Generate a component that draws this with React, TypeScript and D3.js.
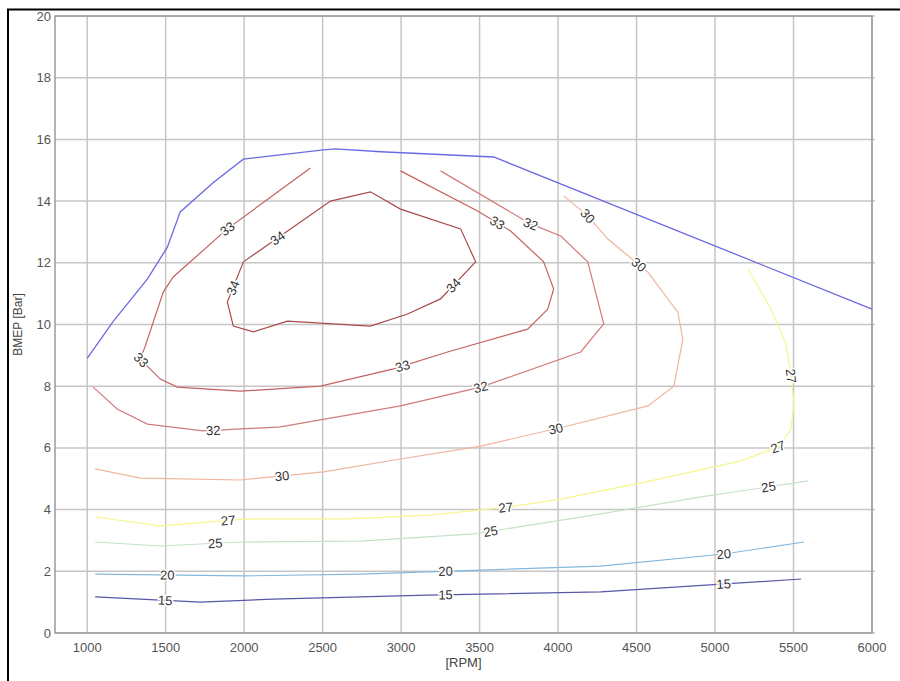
import React from 'react';
import * as d3 from 'd3';

// axis ticks
const RPM_TICKS = [1000, 1500, 2000, 2500, 3000, 3500, 4000, 4500, 5000, 5500, 6000];
const BMEP_TICKS = [0, 2, 4, 6, 8, 10, 12, 14, 16, 18, 20];

// full load (max BMEP) curve, [rpm, bmep]
const maxBmep: [number, number][] = [
  [1000, 8.9], [1166, 10.1], [1383, 11.47], [1510, 12.5], [1593, 13.65], [1804, 14.6],
  [1995, 15.36], [2506, 15.66], [2580, 15.69], [2870, 15.6], [3590, 15.43], [6000, 10.5]
];

// efficiency iso-lines [rpm, bmep]
const eff34: [number, number][] = [
  [1995, 12.03], [2550, 14.0], [2805, 14.3], [2996, 13.74], [3379, 13.1], [3475, 12.03],
  [3251, 10.83], [3041, 10.34], [2805, 9.95], [2276, 10.11], [2059, 9.76], [1931, 9.95],
  [1893, 10.73], [1995, 12.03]
];
const eff33: [number, number][] = [
  [2422, 15.07], [1893, 13.1], [1548, 11.54], [1485, 11.05], [1370, 9.3], [1338, 8.88],
  [1466, 8.23], [1574, 7.97], [1976, 7.84], [2486, 8.0], [2952, 8.56], [3296, 9.11],
  [3806, 9.85], [3934, 10.5], [3972, 11.15], [3908, 12.03], [3698, 13.03], [3487, 13.68],
  [2996, 14.98]
];
const eff32: [number, number][] = [
  [1038, 7.97], [1191, 7.26], [1383, 6.77], [1740, 6.55], [2231, 6.68], [2996, 7.36],
  [3507, 7.97], [4144, 9.11], [4291, 10.02], [4189, 12.03], [4017, 12.87], [3825, 13.26],
  [3251, 14.98]
];
const eff30: [number, number][] = [
  [1051, 5.32], [1338, 5.02], [1976, 4.96], [2506, 5.22], [2996, 5.64], [3507, 6.06],
  [4061, 6.71], [4572, 7.36], [4738, 8.0], [4795, 9.53], [4763, 10.4], [4572, 11.7],
  [4317, 12.77], [4189, 13.52], [4036, 14.17]
];
const eff27: [number, number][] = [
  [1051, 3.76], [1466, 3.47], [2021, 3.7], [2659, 3.7], [3188, 3.82], [3679, 4.08],
  [4017, 4.34], [4591, 4.93], [5165, 5.58], [5401, 6.03], [5484, 6.61], [5503, 7.42],
  [5484, 8.33], [5452, 9.37], [5356, 10.5], [5210, 11.8]
];
const eff25: [number, number][] = [
  [1051, 2.95], [1466, 2.82], [1976, 2.95], [2742, 2.98], [3462, 3.21], [4272, 3.86],
  [4910, 4.41], [5592, 4.93]
];
const eff20: [number, number][] = [
  [1051, 1.91], [1995, 1.85], [2742, 1.91], [3168, 1.98], [4272, 2.17], [5056, 2.56],
  [5567, 2.95]
];
const eff15: [number, number][] = [
  [1051, 1.17], [1721, 1.0], [2186, 1.1], [3168, 1.23], [4272, 1.33], [5548, 1.75]
];

const LEVELS = [34, 33, 32, 30, 27, 25, 20, 15];
const CURVES = [eff34, eff33, eff32, eff30, eff27, eff25, eff20, eff15];

// inline label positions [level, rpm, bmep]
const LABELS: [number, number, number][] = [
  [34, 1925, 11.2], [34, 2231, 12.67], [34, 3347, 11.2],
  [33, 1893, 13.1], [33, 1338, 8.82], [33, 3015, 8.56], [33, 3602, 13.2],
  [32, 1804, 6.55], [32, 3507, 7.97], [32, 3825, 13.26],
  [30, 2244, 4.96], [30, 3991, 6.5], [30, 4508, 11.9], [30, 4189, 13.52],
  [27, 1899, 3.55], [27, 3666, 4.08], [27, 5401, 6.03], [27, 5484, 8.33],
  [25, 1816, 2.88], [25, 3570, 3.3], [25, 5343, 4.67],
  [20, 1510, 1.86], [20, 3283, 2.0], [20, 5056, 2.56],
  [15, 1497, 1.05], [15, 3283, 1.24], [15, 5056, 1.52]
];

const COLORS: Record<number, string> = {
  34: '#a84a4a', 33: '#c46262', 32: '#d27a7a', 30: '#f0b49c',
  27: '#f6f68e', 25: '#c6e2c8', 20: '#86b8dc', 15: '#5858a8'
};

const FONT = '"Liberation Sans", Arial, sans-serif';

export default function App() {
  const W = 900;
  const H = 681;
  const x = d3.scaleLinear().domain([795, 6000]).range([55, 872]);
  const y = d3.scaleLinear().domain([0, 20]).range([633, 16]);
  const [x0, x1] = x.range();
  const [y0, y1] = y.range();

  const line = d3.line<[number, number]>().x(d => x(d[0])).y(d => y(d[1]));

  // snap a label onto its curve and align it with the local direction
  const place = (level: number, rpm: number, bmep: number) => {
    const pts = CURVES[LEVELS.indexOf(level)].map(d => [x(d[0]), y(d[1])]);
    const px = x(rpm), py = y(bmep);
    let best = { d: Infinity, x: px, y: py, a: 0 };
    for (let i = 0; i < pts.length - 1; i++) {
      const [ax, ay] = pts[i];
      const [bx, by] = pts[i + 1];
      const dx = bx - ax, dy = by - ay;
      const len2 = dx * dx + dy * dy || 1;
      const t = Math.max(0, Math.min(1, ((px - ax) * dx + (py - ay) * dy) / len2));
      const qx = ax + t * dx, qy = ay + t * dy;
      const d = (qx - px) ** 2 + (qy - py) ** 2;
      if (d < best.d) {
        let a = (Math.atan2(dy, dx) * 180) / Math.PI;
        if (a > 90) a -= 180;
        if (a < -90) a += 180;
        best = { d, x: qx, y: qy, a };
      }
    }
    return best;
  };

  return (
    <svg width={W} height={H} style={{ position: 'absolute', left: 0, top: 0, background: '#fff' }}>
      <rect width={W} height={H} fill="#fff" />

      {/* grid */}
      <g stroke="#c6c6c6" strokeWidth={1.5}>
        {RPM_TICKS.map(t => (
          <line key={'gx' + t} x1={x(t)} x2={x(t)} y1={y1} y2={y0} />
        ))}
        {BMEP_TICKS.map(t => (
          <line key={'gy' + t} x1={x0} x2={x1 + 3} y1={y(t)} y2={y(t)} />
        ))}
      </g>

      {/* plot frame */}
      <rect x={x0} y={y1} width={x1 - x0} height={y0 - y1} fill="none" stroke="#9a9a9a" strokeWidth={1.5} />

      {/* iso-efficiency lines */}
      <g fill="none" strokeWidth={1.2}>
        {CURVES.map((c, i) => (
          <path key={LEVELS[i]} d={line(c) || ''} stroke={COLORS[LEVELS[i]]} />
        ))}
      </g>

      {/* full load line */}
      <path d={line(maxBmep) || ''} fill="none" stroke="#6a6ae2" strokeWidth={1.3} />

      {/* contour labels */}
      <g fontFamily={FONT} fontSize={13} fill="#333" textAnchor="middle">
        {LABELS.map(([lv, r, b], i) => {
          const p = place(lv, r, b);
          return (
            <text
              key={i}
              transform={`translate(${p.x},${p.y}) rotate(${p.a})`}
              dy="0.35em"
              stroke="#fff"
              strokeWidth={3}
              style={{ paintOrder: 'stroke' }}
            >
              {lv}
            </text>
          );
        })}
      </g>

      {/* tick labels */}
      <g fontFamily={FONT} fontSize={13} fill="#555">
        {BMEP_TICKS.map(t => (
          <text key={'ty' + t} x={x0 - 4} y={y(t)} dy="0.35em" textAnchor="end">{t}</text>
        ))}
        {RPM_TICKS.map(t => (
          <text key={'tx' + t} x={x(t)} y={y0 + 19} textAnchor="middle">{t}</text>
        ))}
      </g>

      {/* axis titles */}
      <text fontFamily={FONT} fontSize={12} fill="#444" textAnchor="middle"
        transform={`translate(22,${(y0 + y1) / 2}) rotate(-90)`}>BMEP [Bar]</text>
      <text fontFamily={FONT} fontSize={13} fill="#444" textAnchor="middle"
        x={(x0 + x1) / 2} y={667}>[RPM]</text>

      {/* outer screenshot frame */}
      <path d={`M8,${H} L8,9.5 L${W},9.5`} fill="none" stroke="#000" strokeWidth={2} />
    </svg>
  );
}
